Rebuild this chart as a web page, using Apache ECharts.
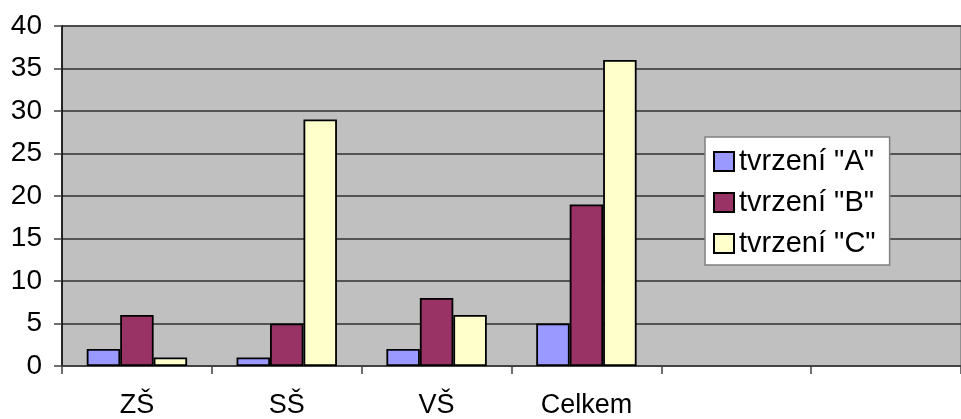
<!DOCTYPE html>
<html>
<head>
<meta charset="utf-8">
<script src="https://cdn.jsdelivr.net/npm/echarts@6/dist/echarts.min.js"></script>
<style>
  html, body { margin: 0; padding: 0; background: #fff; }
  #chart { width: 961px; height: 419px; }
</style>
</head>
<body>
<div id="chart"></div>
<script>
// Categories (two trailing empty slots keep the plot area wide)
const categories = ['ZŠ', 'SŠ', 'VŠ', 'Celkem', '', ''];
const seriesNames = ['tvrzení "A"', 'tvrzení "B"', 'tvrzení "C"'];
const valuesA = [2, 1, 2, 5, null, null];
const valuesB = [6, 5, 8, 19, null, null];
const valuesC = [1, 29, 6, 36, null, null];
const seriesColors = ['#9999FF', '#993366', '#FFFFCC'];
const yTicks = { min: 0, max: 40, interval: 5 };

const font = 'Liberation Sans, Arial, sans-serif';
const chart = echarts.init(document.getElementById('chart'), null, { renderer: 'canvas' });

const mkSeries = (name, data, color) => ({
  name,
  type: 'bar',
  data,
  barGap: '0%',
  barCategoryGap: '33%',
  itemStyle: { color, borderColor: '#000', borderWidth: 1.8 },
  emphasis: { disabled: true }
});

chart.setOption({
  animation: false,
  backgroundColor: '#fff',
  textStyle: { fontFamily: font },
  grid: {
    left: 62, right: -11, top: 26, bottom: 51,
    show: true,
    backgroundColor: '#C0C0C0',
    borderColor: '#808080',
    borderWidth: 1.5
  },
  legend: {
    orient: 'vertical',
    left: 705, top: 137,
    padding: [10, 14, 7, 8],
    itemGap: 12,
    itemWidth: 20, itemHeight: 19,
    itemTextGap: 6,
    icon: 'rect',
    backgroundColor: '#fff',
    borderColor: '#808080',
    borderWidth: 1.5,
    textStyle: { fontSize: 29, color: '#000', fontFamily: font },
    data: seriesNames
  },
  xAxis: {
    type: 'category',
    data: categories,
    axisLine: { lineStyle: { color: '#404040', width: 1.5 } },
    axisTick: { show: true, interval: 0, length: 8, lineStyle: { color: '#404040', width: 1.5 } },
    axisLabel: { fontSize: 27, color: '#000', margin: 26, fontFamily: font, interval: 0 }
  },
  yAxis: {
    type: 'value',
    min: yTicks.min, max: yTicks.max, interval: yTicks.interval,
    axisLine: { show: true, lineStyle: { color: '#000', width: 1.5 } },
    axisTick: { show: true, length: 8, lineStyle: { color: '#404040', width: 1.5 } },
    axisLabel: { fontSize: 28, color: '#000', margin: 20, fontFamily: font },
    splitLine: { show: true, lineStyle: { color: '#303030', width: 1.5 } }
  },
  series: [
    mkSeries(seriesNames[0], valuesA, seriesColors[0]),
    mkSeries(seriesNames[1], valuesB, seriesColors[1]),
    mkSeries(seriesNames[2], valuesC, seriesColors[2])
  ]
});
</script>
</body>
</html>
